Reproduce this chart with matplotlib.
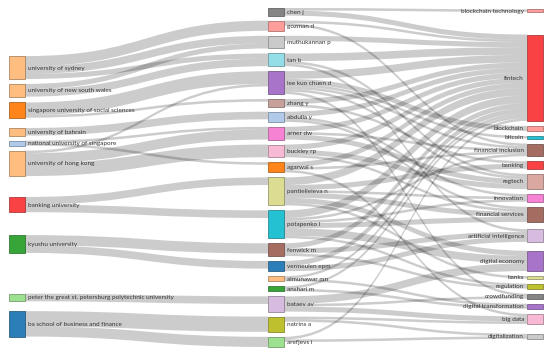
import numpy as np
import matplotlib
matplotlib.use('Agg')
import matplotlib.pyplot as plt
from matplotlib.path import Path
from matplotlib.patches import PathPatch, Rectangle

plt.rcParams['font.family'] = ['Lato', 'DejaVu Sans']

# node names per column
affiliations = ['university of sydney', 'university of new south wales',
                'singapore university of social sciences', 'university of bahrain',
                'national university of singapore', 'university of hong kong',
                'banking university', 'kyushu university',
                'peter the great st. petersburg polytechnic university',
                'ba school of business and finance']
authors = ['chen j', 'gozman d', 'muthukannan p', 'tan b', 'lee kuo chuen d', 'zhang y',
           'abdulla y', 'arner dw', 'buckley rp', 'agarwal s', 'pantielieieva n',
           'potapenko l', 'fenwick m', 'vermeulen epm', 'almunawar mn', 'anshari m',
           'bataev av', 'natrins a', 'arefjevs i']
keywords = ['blockchain technology', 'fintech', 'blockchain', 'bitcoin',
            'financial inclusion', 'banking', 'regtech', 'innovation',
            'financial services', 'artificial intelligence', 'digital economy',
            'banks', 'regulation', 'crowdfunding', 'digital transformation',
            'big data', 'digitalization']

# links affiliation -> author (source, target, value)
aff_auth = [
    ('university of sydney', 'gozman d', 4), ('university of sydney', 'muthukannan p', 3),
    ('university of sydney', 'tan b', 2),
    ('university of new south wales', 'muthukannan p', 2), ('university of new south wales', 'tan b', 3),
    ('singapore university of social sciences', 'lee kuo chuen d', 5),
    ('singapore university of social sciences', 'zhang y', 1),
    ('university of bahrain', 'abdulla y', 3),
    ('national university of singapore', 'agarwal s', 1),
    ('national university of singapore', 'arner dw', 1),
    ('university of hong kong', 'arner dw', 4), ('university of hong kong', 'buckley rp', 5),
    ('university of hong kong', 'lee kuo chuen d', 1),
    ('banking university', 'pantielieieva n', 3), ('banking university', 'potapenko l', 3),
    ('kyushu university', 'fenwick m', 4), ('kyushu university', 'vermeulen epm', 3),
    ('peter the great st. petersburg polytechnic university', 'bataev av', 3),
    ('ba school of business and finance', 'natrins a', 6),
    ('ba school of business and finance', 'arefjevs i', 4),
]

# links author -> keyword
auth_kw = [
    ('chen j', 'blockchain technology', 1), ('chen j', 'fintech', 2),
    ('gozman d', 'fintech', 1), ('gozman d', 'financial inclusion', 1),
    ('muthukannan p', 'fintech', 2),
    ('tan b', 'fintech', 3), ('tan b', 'regtech', 1), ('tan b', 'artificial intelligence', 1),
    ('lee kuo chuen d', 'fintech', 3), ('lee kuo chuen d', 'blockchain', 2),
    ('lee kuo chuen d', 'bitcoin', 1), ('lee kuo chuen d', 'financial inclusion', 1),
    ('lee kuo chuen d', 'regtech', 1), ('lee kuo chuen d', 'crowdfunding', 1),
    ('zhang y', 'fintech', 2), ('zhang y', 'banking', 1),
    ('abdulla y', 'fintech', 2), ('abdulla y', 'financial services', 1), ('abdulla y', 'innovation', 1),
    ('arner dw', 'fintech', 2), ('arner dw', 'regtech', 2), ('arner dw', 'financial inclusion', 1),
    ('buckley rp', 'fintech', 2), ('buckley rp', 'regtech', 2), ('buckley rp', 'financial services', 1),
    ('agarwal s', 'fintech', 2), ('agarwal s', 'financial inclusion', 1), ('agarwal s', 'big data', 1),
    ('pantielieieva n', 'fintech', 3), ('pantielieieva n', 'banking', 2),
    ('pantielieieva n', 'financial services', 2), ('pantielieieva n', 'digital economy', 2),
    ('pantielieieva n', 'innovation', 1), ('pantielieieva n', 'banks', 1),
    ('potapenko l', 'fintech', 3), ('potapenko l', 'financial inclusion', 1),
    ('potapenko l', 'financial services', 2), ('potapenko l', 'digital economy', 3),
    ('potapenko l', 'innovation', 1), ('potapenko l', 'regulation', 1),
    ('fenwick m', 'fintech', 2), ('fenwick m', 'artificial intelligence', 2), ('fenwick m', 'regulation', 1),
    ('vermeulen epm', 'fintech', 2), ('vermeulen epm', 'artificial intelligence', 2),
    ('almunawar mn', 'fintech', 1), ('almunawar mn', 'digital transformation', 1),
    ('anshari m', 'fintech', 1), ('anshari m', 'digital transformation', 1),
    ('bataev av', 'digital economy', 3), ('bataev av', 'crowdfunding', 1), ('bataev av', 'big data', 2),
    ('natrins a', 'big data', 1), ('natrins a', 'digitalization', 1),
    ('arefjevs i', 'digitalization', 1), ('arefjevs i', 'fintech', 1),
]

node_colors = {
    'university of sydney': '#ffbb78', 'university of new south wales': '#ffbb78',
    'singapore university of social sciences': '#ff7f0e', 'university of bahrain': '#ffbb78',
    'national university of singapore': '#aec7e8', 'university of hong kong': '#ffbb78',
    'banking university': '#f8383a', 'kyushu university': '#2ca02c',
    'peter the great st. petersburg polytechnic university': '#98df8a',
    'ba school of business and finance': '#1f77b4',
    'chen j': '#7f7f7f', 'gozman d': '#ff9896', 'muthukannan p': '#c7c7c7', 'tan b': '#8ddde6',
    'lee kuo chuen d': '#a46cc8', 'zhang y': '#c49c94', 'abdulla y': '#aec7e8',
    'arner dw': '#f57bd0', 'buckley rp': '#f7b6d2', 'agarwal s': '#ff7f0e',
    'pantielieieva n': '#dbdb8d', 'potapenko l': '#17becf', 'fenwick m': '#a0645a',
    'vermeulen epm': '#1f77b4', 'almunawar mn': '#ffbb78', 'anshari m': '#2ca02c',
    'bataev av': '#d5b9de', 'natrins a': '#bcbd22', 'arefjevs i': '#98df8a',
    'blockchain technology': '#ff9896', 'fintech': '#f8383a', 'blockchain': '#ff9896',
    'bitcoin': '#17becf', 'financial inclusion': '#a0645a', 'banking': '#f8383a',
    'regtech': '#d8a49c', 'innovation': '#f57bd0', 'financial services': '#a0645a',
    'artificial intelligence': '#d5b9de', 'digital economy': '#a46cc8', 'banks': '#dbdb8d',
    'regulation': '#bcbd22', 'crowdfunding': '#7f7f7f', 'digital transformation': '#a46cc8',
    'big data': '#f7b6d2', 'digitalization': '#c7c7c7',
}

# ---- layout ----
W, H = 550, 353
X0, X1, NODE_W = 9, 543, 16
Y0, Y1, PAD = 8, 347, 5

columns = [affiliations, authors, keywords]
links = [{'s': s, 't': t, 'v': v} for s, t, v in aff_auth + auth_kw]

nodes = {}
for ci, col in enumerate(columns):
    for name in col:
        nodes[name] = {'col': ci, 'src': [], 'tgt': []}
for lk in links:
    nodes[lk['s']]['src'].append(lk)
    nodes[lk['t']]['tgt'].append(lk)
for name, n in nodes.items():
    vin = sum(l['v'] for l in n['tgt'])
    vout = sum(l['v'] for l in n['src'])
    n['value'] = max(vin, vout)
    n['x'] = X0 + n['col'] * (X1 - X0 - NODE_W) / 2

ky = min((Y1 - Y0 - (len(col) - 1) * PAD) / sum(nodes[m]['value'] for m in col)
         for col in columns)
for lk in links:
    lk['w'] = lk['v'] * ky
for n in nodes.values():
    n['dy'] = n['value'] * ky


def center(n):
    return n['y0'] + n['dy'] / 2


def reorder(n):
    n['src'].sort(key=lambda l: nodes[l['t']]['y0'])
    n['tgt'].sort(key=lambda l: nodes[l['s']]['y0'])


def stack_down(col):
    # push overlapping nodes down, then back up from the bottom edge
    y = Y0
    for name in col:
        n = nodes[name]
        if y > n['y0']:
            n['y0'] = y
        y = n['y0'] + n['dy'] + PAD
    over = y - PAD - Y1
    if over > 0:
        n = nodes[col[-1]]
        n['y0'] -= over
        y = n['y0']
        for name in reversed(col[:-1]):
            n = nodes[name]
            d = n['y0'] + n['dy'] + PAD - y
            if d > 0:
                n['y0'] -= d
            y = n['y0']


def layout_centers(iterations=32):
    # classic networkD3 sankey: relax on node centres
    for col in columns:
        for i, name in enumerate(col):
            nodes[name]['y0'] = Y0 + i
        stack_down(col)
    alpha = 1.0
    for _ in range(iterations):
        alpha *= 0.99
        for col in reversed(columns):
            for name in col:
                n = nodes[name]
                if n['src']:
                    w = sum(l['v'] for l in n['src'])
                    yc = sum(center(nodes[l['t']]) * l['v'] for l in n['src']) / w
                    n['y0'] += (yc - center(n)) * alpha
        for col in columns:
            stack_down(col)
        for col in columns:
            for name in col:
                n = nodes[name]
                if n['tgt']:
                    w = sum(l['v'] for l in n['tgt'])
                    yc = sum(center(nodes[l['s']]) * l['v'] for l in n['tgt']) / w
                    n['y0'] += (yc - center(n)) * alpha
        for col in columns:
            stack_down(col)
    return {k: n['y0'] for k, n in nodes.items()}


def target_top(s, t):
    y = s['y0'] - (len(s['src']) - 1) * PAD / 2
    for l in s['src']:
        if nodes[l['t']] is t:
            break
        y += l['w'] + PAD
    for l in t['tgt']:
        if nodes[l['s']] is s:
            break
        y -= l['w']
    return y


def source_top(s, t):
    y = t['y0'] - (len(t['tgt']) - 1) * PAD / 2
    for l in t['tgt']:
        if nodes[l['s']] is s:
            break
        y += l['w'] + PAD
    for l in s['src']:
        if nodes[l['t']] is t:
            break
        y -= l['w']
    return y


def top_to_bottom(col, y, i, alpha):
    for name in col[i:]:
        n = nodes[name]
        d = (y - n['y0']) * alpha
        if d > 1e-6:
            n['y0'] += d
        y = n['y0'] + n['dy'] + PAD


def bottom_to_top(col, y, i, alpha):
    for name in reversed(col[:i + 1]):
        n = nodes[name]
        d = (n['y0'] + n['dy'] - y) * alpha
        if d > 1e-6:
            n['y0'] -= d
        y = n['y0'] - PAD


def resolve(col, alpha):
    i = len(col) >> 1
    sub = nodes[col[i]]
    bottom_to_top(col, sub['y0'] - PAD, i - 1, alpha)
    top_to_bottom(col, sub['y0'] + sub['dy'] + PAD, i + 1, alpha)
    bottom_to_top(col, Y1, len(col) - 1, alpha)
    top_to_bottom(col, Y0, 0, alpha)


def layout_links(iterations=6):
    # d3-sankey 0.12: spread evenly, then relax on link positions
    for col in columns:
        y = Y0
        for name in col:
            nodes[name]['y0'] = y
            y += nodes[name]['dy'] + PAD
        extra = (Y1 - y + PAD) / (len(col) + 1)
        for i, name in enumerate(col):
            nodes[name]['y0'] += extra * (i + 1)
    for n in nodes.values():
        reorder(n)
    for it in range(iterations):
        alpha = 0.99 ** it
        beta = max(1 - alpha, (it + 1) / iterations)
        for col in reversed(columns[:-1]):
            for name in col:
                s = nodes[name]
                if s['src']:
                    y = sum(source_top(s, nodes[l['t']]) * l['v'] for l in s['src'])
                    s['y0'] += (y / sum(l['v'] for l in s['src']) - s['y0']) * alpha
                    reorder(s)
            resolve(col, beta)
        for col in columns[1:]:
            for name in col:
                t = nodes[name]
                if t['tgt']:
                    y = sum(target_top(nodes[l['s']], t) * l['v'] for l in t['tgt'])
                    t['y0'] += (y / sum(l['v'] for l in t['tgt']) - t['y0']) * alpha
                    reorder(t)
            resolve(col, beta)
    return {k: n['y0'] for k, n in nodes.items()}


# average of both layouts keeps order and spacing
pos_a = layout_centers()
pos_b = layout_links()
for k, n in nodes.items():
    n['y0'] = (pos_a[k] + pos_b[k]) / 2

for n in nodes.values():
    reorder(n)
    off = n['y0']
    for l in n['src']:
        l['sy'] = off
        off += l['w']
    off = n['y0']
    for l in n['tgt']:
        l['ty'] = off
        off += l['w']

# ---- drawing ----
fig = plt.figure(figsize=(W / 100, H / 100), dpi=100)
ax = fig.add_axes([0, 0, 1, 1])
ax.set_xlim(0, W)
ax.set_ylim(H, 0)
ax.axis('off')

for l in links:
    xs = nodes[l['s']]['x'] + NODE_W
    xt = nodes[l['t']]['x']
    xm = (xs + xt) / 2
    a0, b0, w = l['sy'], l['ty'], l['w']
    verts = [(xs, a0), (xm, a0), (xm, b0), (xt, b0),
             (xt, b0 + w), (xm, b0 + w), (xm, a0 + w), (xs, a0 + w), (xs, a0)]
    codes = [Path.MOVETO, Path.CURVE4, Path.CURVE4, Path.CURVE4,
             Path.LINETO, Path.CURVE4, Path.CURVE4, Path.CURVE4, Path.CLOSEPOLY]
    ax.add_patch(PathPatch(Path(verts, codes), facecolor='black', alpha=0.2,
                           edgecolor='none', zorder=1))

for name, n in nodes.items():
    c = node_colors[name]
    edge = tuple(np.array(matplotlib.colors.to_rgb(c)) * 0.6)
    ax.add_patch(Rectangle((n['x'], n['y0']), NODE_W, n['dy'], facecolor=c,
                           edgecolor=edge, linewidth=0.5, alpha=0.95, zorder=2))
    yc = center(n)
    if n['col'] < 2:
        ax.text(n['x'] + NODE_W + 3, yc, name, ha='left', va='center_baseline',
                fontsize=4.6, color='#333333', zorder=3)
    else:
        ax.text(n['x'] - 3, yc, name, ha='right', va='center_baseline',
                fontsize=4.6, color='#333333', zorder=3)

fig.savefig('out.png', dpi=100)
